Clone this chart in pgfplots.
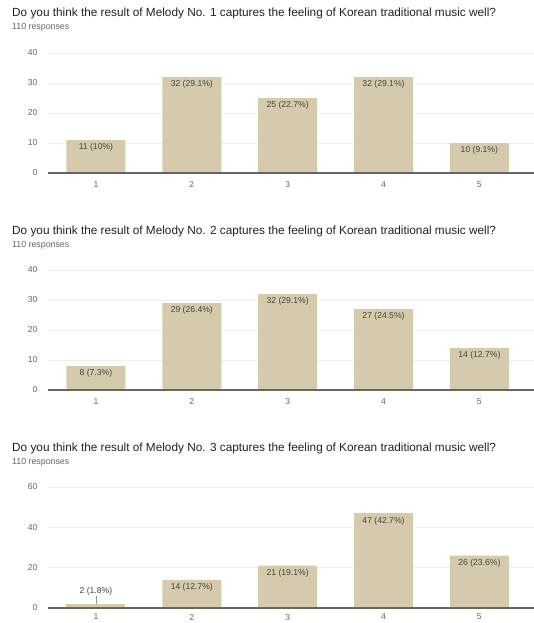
\documentclass[border=0pt]{standalone}
\usepackage{fontspec}
\setmainfont{Liberation Sans}
\usepackage{pgfplots}
\pgfplotsset{compat=1.18}

\definecolor{barfill}{HTML}{D5CAAB}
\definecolor{titlecol}{HTML}{202124}
\definecolor{subcol}{HTML}{5F6368}
\definecolor{tickcol}{HTML}{666666}
\definecolor{gridcol}{HTML}{EEEEEE}
\definecolor{labcol}{HTML}{444444}
\definecolor{basecol}{HTML}{666666}

\newcommand{\smallfont}{\fontsize{8.6}{10}\selectfont}
\newcommand{\subfont}{\fontsize{8.8}{10}\selectfont}
\newcommand{\titlefont}{\fontsize{11.8}{14}\selectfont}

\pgfplotsset{
  surveybar/.style={
    scale only axis,
    width=486pt, height=120pt,
    xmin=0.5, xmax=5.57, ymin=0,
    axis line style={draw=none},
    ymajorgrids,
    grid style={gridcol, line width=0.6pt},
    xtick={1,2,3,4,5},
    major tick length=0pt,
    /pgf/number format/assume math mode=true,
    tick label style={font=\smallfont, text=tickcol},
    yticklabel style={anchor=east, xshift=-7pt},
    ybar, bar width=59pt, bar shift=0pt,
    point meta=explicit symbolic,
    nodes near coords,
    every node near coord/.style={anchor=north, inner sep=0pt, yshift=-3.5pt,
      font=\smallfont, text=labcol},
    clip=false,
  },
  bars/.style={fill=barfill, draw=none},
}

\begin{document}
\begin{tikzpicture}
\useasboundingbox (0pt,0pt) rectangle (534pt,-623pt);

% ---- Melody No. 1 ----
\node[anchor=base west, text=titlecol, font=\titlefont, inner sep=0pt] at (12pt,-17pt)
  {Do you think the result of Melody No. 1 captures the feeling of Korean traditional music well?};
\node[anchor=base west, text=subcol, font=\subfont, inner sep=0pt] at (12pt,-30pt) {110 responses};
\begin{axis}[surveybar, at={(48pt,-173pt)}, anchor=south west,
  ymax=40, ytick={0,10,20,30,40},
  xticklabel style={anchor=north, yshift=-5pt}]
\addplot[bars] coordinates {
  (1,11) [11 (10\%)]
  (2,32) [32 (29.1\%)]
  (3,25) [25 (22.7\%)]
  (4,32) [32 (29.1\%)]
  (5,10) [10 (9.1\%)]
};
\draw[basecol, line width=1.2pt] (axis cs:0.5,0) -- (axis cs:5.57,0);
\end{axis}

% ---- Melody No. 2 ----
\node[anchor=base west, text=titlecol, font=\titlefont, inner sep=0pt] at (12pt,-234pt)
  {Do you think the result of Melody No. 2 captures the feeling of Korean traditional music well?};
\node[anchor=base west, text=subcol, font=\subfont, inner sep=0pt] at (12pt,-247pt) {110 responses};
\begin{axis}[surveybar, at={(48pt,-390pt)}, anchor=south west,
  ymax=40, ytick={0,10,20,30,40},
  xticklabel style={anchor=north, yshift=-5pt}]
\addplot[bars] coordinates {
  (1,8) [8 (7.3\%)]
  (2,29) [29 (26.4\%)]
  (3,32) [32 (29.1\%)]
  (4,27) [27 (24.5\%)]
  (5,14) [14 (12.7\%)]
};
\draw[basecol, line width=1.2pt] (axis cs:0.5,0) -- (axis cs:5.57,0);
\end{axis}

% ---- Melody No. 3 ----
\node[anchor=base west, text=titlecol, font=\titlefont, inner sep=0pt] at (12pt,-451pt)
  {Do you think the result of Melody No. 3 captures the feeling of Korean traditional music well?};
\node[anchor=base west, text=subcol, font=\subfont, inner sep=0pt] at (12pt,-464pt) {110 responses};
\begin{axis}[surveybar, at={(48pt,-608pt)}, anchor=south west,
  height=121pt, ymax=60, ytick={0,20,40,60},
  xticklabel style={anchor=north, yshift=-2.5pt}]
\addplot[bars, every node near coord/.style={anchor=south, inner sep=0pt, yshift=8.5pt,
      font=\smallfont, text=labcol}] coordinates {
  (1,2) [2 (1.8\%)]
};
\addplot[bars] coordinates {
  (2,14) [14 (12.7\%)]
  (3,21) [21 (19.1\%)]
  (4,47) [47 (42.7\%)]
  (5,26) [26 (23.6\%)]
};
\draw[tickcol!70, line width=0.6pt] (axis cs:1,2) -- ++(0pt,7.5pt);
\draw[basecol, line width=1.2pt] (axis cs:0.5,0) -- (axis cs:5.57,0);
\end{axis}
\end{tikzpicture}
\end{document}
